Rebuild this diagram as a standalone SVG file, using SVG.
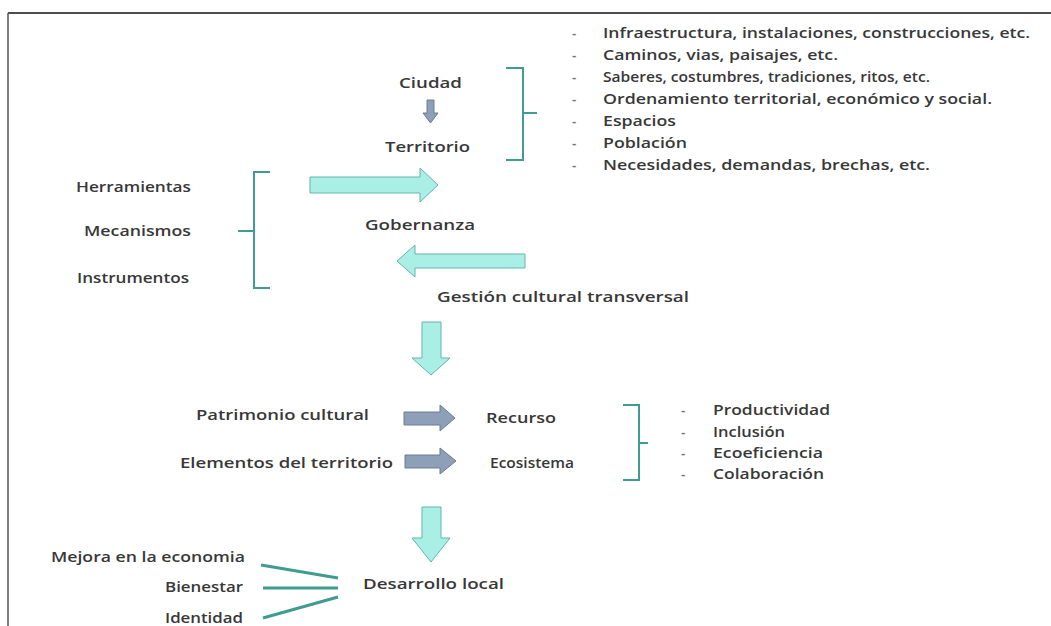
<svg xmlns="http://www.w3.org/2000/svg" width="1051" height="626" viewBox="0 0 1051 626">
<style>
text{font-family:"Open Sans","Liberation Sans",sans-serif;font-weight:600;fill:#383838;}
.m{font-size:15px;}
.s{font-size:13.5px;}
.d{fill:#777777;}
.teal{fill:#aaefe6;stroke:#62b5aa;stroke-width:1;}
.gray{fill:#8e9fb8;stroke:#6c7c94;stroke-width:1;}
.br{fill:none;stroke:#3f9c90;stroke-width:2;}
.ln{stroke:#3f9c90;stroke-width:3;fill:none;}
</style>
<rect width="1051" height="626" fill="#ffffff"/>
<g id="frame">
<line x1="8" y1="13" x2="1051" y2="13" stroke="#111" stroke-width="1.5"/>
<line x1="8" y1="13" x2="8" y2="626" stroke="#555" stroke-width="1.5"/>
</g>
<g id="connectors">
<polygon class="gray" points="427,100 434,100 434,113 438,113 430.5,123 423,113 427,113"/>
<polygon class="teal" points="310,177 420,177 420,168 438,185 420,202 420,193 310,193"/>
<polygon class="teal" points="525,254 415,254 415,245 397,261 415,277 415,268 525,268"/>
<polygon class="teal" points="422,322 441,322 441,358 450,358 431,375 412,358 422,358"/>
<polygon class="gray" points="404,412 440,412 440,405 455,418 440,431 440,425 404,425"/>
<polygon class="gray" points="405,455 440,455 440,448 456,461 440,474 440,468 405,468"/>
<polygon class="teal" points="422,507 441,507 441,538 450,538 431,562 412,538 422,538"/>
<line class="ln" x1="261" y1="565" x2="338" y2="578"/>
<line class="ln" x1="263" y1="588" x2="338" y2="588"/>
<line class="ln" x1="263" y1="618" x2="338" y2="597"/>
</g>
<g id="brackets">
<path class="br" d="M506,68 H523 V160 H506 M523,113 H537"/>
<path class="br" d="M270,172 H254 V288 H270 M254,231 H238"/>
<path class="br" d="M623,405 H639 V480 H623 M639,443 H648"/>
</g>
<g id="ciudad"><text class="m" x="399" y="88" textLength="63" lengthAdjust="spacingAndGlyphs">Ciudad</text></g>
<g id="territorio"><text class="m" x="385" y="152" textLength="85" lengthAdjust="spacingAndGlyphs">Territorio</text></g>
<g id="territorio-list">
<text class="s d" x="572" y="38">-</text><text class="s" x="603" y="38" textLength="427" lengthAdjust="spacingAndGlyphs">Infraestructura, instalaciones, construcciones, etc.</text>
<text class="s d" x="572" y="60">-</text><text class="s" x="603" y="60" textLength="235" lengthAdjust="spacingAndGlyphs">Caminos, vias, paisajes, etc.</text>
<text class="s d" x="572" y="82">-</text><text class="s" x="603" y="82" textLength="327" lengthAdjust="spacingAndGlyphs">Saberes, costumbres, tradiciones, ritos, etc.</text>
<text class="s d" x="572" y="104">-</text><text class="s" x="603" y="104" textLength="389" lengthAdjust="spacingAndGlyphs">Ordenamiento territorial, económico y social.</text>
<text class="s d" x="572" y="126">-</text><text class="s" x="603" y="126" textLength="73" lengthAdjust="spacingAndGlyphs">Espacios</text>
<text class="s d" x="572" y="148">-</text><text class="s" x="603" y="148" textLength="84" lengthAdjust="spacingAndGlyphs">Población</text>
<text class="s d" x="572" y="170">-</text><text class="s" x="603" y="170" textLength="327" lengthAdjust="spacingAndGlyphs">Necesidades, demandas, brechas, etc.</text>
</g>
<g id="herramientas"><text class="m" x="76" y="192" textLength="115" lengthAdjust="spacingAndGlyphs">Herramientas</text></g>
<g id="mecanismos"><text class="m" x="84" y="236" textLength="107" lengthAdjust="spacingAndGlyphs">Mecanismos</text></g>
<g id="instrumentos"><text class="m" x="77" y="283" textLength="112" lengthAdjust="spacingAndGlyphs">Instrumentos</text></g>
<g id="gobernanza"><text class="m" x="365" y="230" textLength="110" lengthAdjust="spacingAndGlyphs">Gobernanza</text></g>
<g id="gestion"><text class="m" x="437" y="302" textLength="252" lengthAdjust="spacingAndGlyphs">Gestión cultural transversal</text></g>
<g id="patrimonio"><text class="m" x="196" y="420" textLength="173" lengthAdjust="spacingAndGlyphs">Patrimonio cultural</text></g>
<g id="elementos"><text class="m" x="180" y="468" textLength="213" lengthAdjust="spacingAndGlyphs">Elementos del territorio</text></g>
<g id="recurso"><text class="m" x="486" y="423" textLength="70" lengthAdjust="spacingAndGlyphs">Recurso</text></g>
<g id="ecosistema"><text class="m" x="490" y="468" textLength="84" lengthAdjust="spacingAndGlyphs">Ecosistema</text></g>
<g id="recurso-list">
<text class="s d" x="681" y="415">-</text><text class="s" x="713" y="415" textLength="117" lengthAdjust="spacingAndGlyphs">Productividad</text>
<text class="s d" x="681" y="437">-</text><text class="s" x="713" y="437" textLength="72" lengthAdjust="spacingAndGlyphs">Inclusión</text>
<text class="s d" x="681" y="458">-</text><text class="s" x="713" y="458" textLength="110" lengthAdjust="spacingAndGlyphs">Ecoeficiencia</text>
<text class="s d" x="681" y="479">-</text><text class="s" x="713" y="479" textLength="111" lengthAdjust="spacingAndGlyphs">Colaboración</text>
</g>
<g id="mejora"><text class="m" x="51" y="562" textLength="194" lengthAdjust="spacingAndGlyphs">Mejora en la economia</text></g>
<g id="bienestar"><text class="m" x="165" y="592" textLength="78" lengthAdjust="spacingAndGlyphs">Bienestar</text></g>
<g id="identidad"><text class="m" x="165" y="623" textLength="78" lengthAdjust="spacingAndGlyphs">Identidad</text></g>
<g id="desarrollo"><text class="m" x="363" y="589" textLength="141" lengthAdjust="spacingAndGlyphs">Desarrollo local</text></g>
</svg>
